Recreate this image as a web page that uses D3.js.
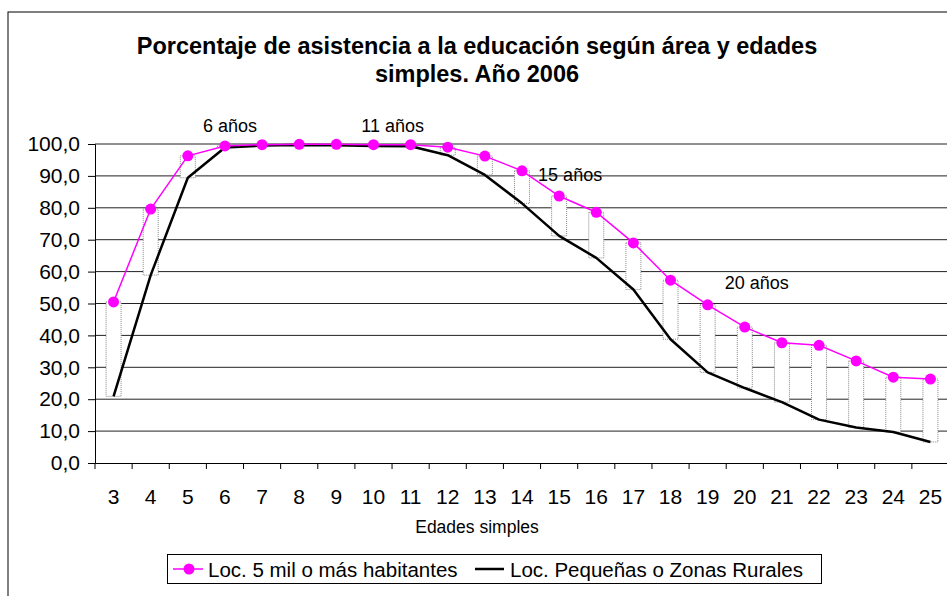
<!DOCTYPE html>
<html>
<head>
<meta charset="utf-8">
<script src="https://cdn.jsdelivr.net/npm/d3@7"></script>
<style>
  body { margin: 0; background: #fff; }
  svg { font-family: "Liberation Sans", Arial, sans-serif; }
</style>
</head>
<body>
<svg id="chart" width="947" height="596"></svg>
<script>
// data
const ages = [3, 4, 5, 6, 7, 8, 9, 10, 11, 12, 13, 14, 15, 16, 17, 18, 19, 20, 21, 22, 23, 24, 25];
const urban = [50.5, 79.6, 96.3, 99.4, 99.8, 99.9, 99.9, 99.8, 99.8, 99.0, 96.2, 91.6, 83.7, 78.6, 69.0,
  57.3, 49.6, 42.6, 37.7, 36.9, 32.0, 26.9, 26.3];
const rural = [20.9, 58.9, 89.4, 98.9, 99.5, 99.7, 99.6, 99.4, 99.3, 96.5, 90.3, 81.4, 71.2, 64.3, 54.4,
  38.8, 28.4, 23.5, 19.1, 13.6, 11.1, 9.7, 6.6];
const yTicks = [0, 10, 20, 30, 40, 50, 60, 70, 80, 90, 100];
const noteAges = [6, 11, 15, 20];
const noteTexts = ["6 años", "11 años", "15 años", "20 años"];
const seriesNames = ["Loc. 5 mil o más habitantes", "Loc. Pequeñas o Zonas Rurales"];

const svg = d3.select("#chart");
const margin = { top: 144, right: -2, bottom: 133, left: 95 };
const width = +svg.attr("width");
const height = +svg.attr("height");

// outer chart frame (runs off the right and bottom edges)
svg.append("rect")
  .attr("x", 8).attr("y", 12)
  .attr("width", 960).attr("height", 600)
  .attr("fill", "none").attr("stroke", "#000").attr("stroke-width", 1);

const x = d3.scaleBand()
  .domain(ages)
  .range([margin.left, width - margin.right]);

const y = d3.scaleLinear()
  .domain([0, 100])
  .range([height - margin.bottom, margin.top]);

// title
svg.append("text")
  .attr("x", 477).attr("text-anchor", "middle")
  .attr("font-size", 23.5).attr("font-weight", "bold")
  .selectAll("tspan")
  .data(["Porcentaje de asistencia a la educación según área y edades", "simples. Año 2006"])
  .join("tspan")
  .attr("x", 477)
  .attr("y", (d, i) => 54 + i * 28)
  .text((d) => d);

// gridlines
svg.append("g")
  .selectAll("line")
  .data(yTicks.filter((d) => d > 0))
  .join("line")
  .attr("x1", margin.left).attr("x2", width)
  .attr("y1", (d) => y(d)).attr("y2", (d) => y(d))
  .attr("stroke", "#222").attr("stroke-width", 1);

// y axis
const yAxis = svg.append("g")
  .attr("transform", `translate(${margin.left},0)`)
  .call(d3.axisLeft(y).tickValues(yTicks).tickSize(7).tickPadding(8)
    .tickFormat((d) => d3.format(".1f")(d).replace(".", ",")));
yAxis.selectAll("text").attr("font-size", 21).attr("fill", "#000").attr("font-family", null);
yAxis.selectAll("line, path").attr("stroke", "#000");

// x axis, ticks between categories
const xAxis = svg.append("g")
  .attr("transform", `translate(0,${y(0)})`)
  .call(d3.axisBottom(x).tickSize(0).tickPadding(26));
xAxis.select(".domain").attr("stroke", "#000");
xAxis.selectAll("text").attr("font-size", 21).attr("fill", "#000").attr("font-family", null);
xAxis.append("g")
  .selectAll("line")
  .data(ages)
  .join("line")
  .attr("x1", (d) => x(d)).attr("x2", (d) => x(d))
  .attr("y1", 0).attr("y2", 6)
  .attr("stroke", "#000");

svg.append("text")
  .attr("x", 477).attr("y", 533)
  .attr("text-anchor", "middle").attr("font-size", 17.5)
  .text("Edades simples");

// up/down bars between the two series
const barW = 15;
svg.append("g")
  .selectAll("rect")
  .data(ages)
  .join("rect")
  .attr("x", (d) => x(d) + x.bandwidth() / 2 - barW / 2)
  .attr("y", (d, i) => y(Math.max(urban[i], rural[i])))
  .attr("width", barW)
  .attr("height", (d, i) => Math.abs(y(urban[i]) - y(rural[i])))
  .attr("fill", "#fff")
  .attr("stroke", "#888")
  .attr("stroke-width", 1)
  .attr("stroke-dasharray", "1,1");

const cx = (d) => x(d) + x.bandwidth() / 2;

const seriesLine = d3.line().x((d, i) => cx(ages[i])).y((d) => y(d));
svg.append("path").datum(rural)
  .attr("fill", "none").attr("stroke", "#000").attr("stroke-width", 2.5)
  .attr("stroke-linejoin", "round")
  .attr("d", seriesLine);

svg.append("path").datum(urban)
  .attr("fill", "none").attr("stroke", "#ff00ff").attr("stroke-width", 1.5)
  .attr("d", seriesLine);

svg.append("g")
  .selectAll("circle")
  .data(urban)
  .join("circle")
  .attr("cx", (d, i) => cx(ages[i]))
  .attr("cy", (d) => y(d))
  .attr("r", 5.5)
  .attr("fill", "#ff00ff");

// age notes, nudged off the urban point of that age
const noteShift = [[5, -14], [-18, -13], [11, -15], [12, -38]];
svg.append("g")
  .selectAll("text")
  .data(noteAges)
  .join("text")
  .attr("x", (d, i) => cx(d) + noteShift[i][0])
  .attr("y", (d, i) => y(urban[ages.indexOf(d)]) + noteShift[i][1])
  .attr("text-anchor", "middle")
  .attr("font-size", 18)
  .text((d, i) => noteTexts[i]);

// legend
const legend = svg.append("g");
legend.append("rect")
  .attr("x", 167.5).attr("y", 554.5)
  .attr("width", 654).attr("height", 29)
  .attr("fill", "#fff").attr("stroke", "#000");
legend.append("line")
  .attr("x1", 173).attr("x2", 203).attr("y1", 569).attr("y2", 569)
  .attr("stroke", "#ff00ff").attr("stroke-width", 1.5);
legend.append("circle")
  .attr("cx", 189).attr("cy", 569).attr("r", 5.5).attr("fill", "#ff00ff");
legend.append("text")
  .attr("x", 208).attr("y", 576.5).attr("font-size", 20.5)
  .text(seriesNames[0]);
legend.append("line")
  .attr("x1", 475).attr("x2", 504).attr("y1", 569).attr("y2", 569)
  .attr("stroke", "#000").attr("stroke-width", 2.5);
legend.append("text")
  .attr("x", 510).attr("y", 576.5).attr("font-size", 20.5)
  .text(seriesNames[1]);
</script>
</body>
</html>
